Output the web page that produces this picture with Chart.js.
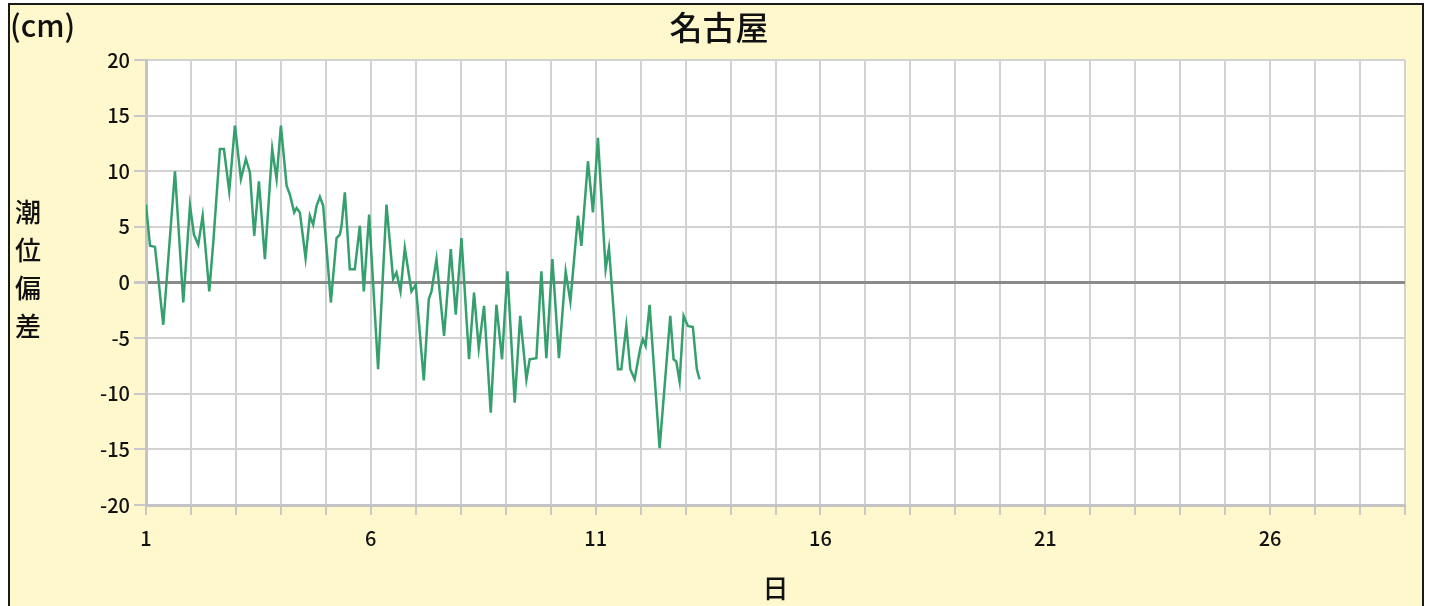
<!DOCTYPE html>
<html lang="ja">
<head>
  <meta charset="UTF-8">
  <title>名古屋 潮位偏差</title>
  <script src="https://cdn.jsdelivr.net/npm/chart.js"></script>
  <style>
    html, body { margin: 0; padding: 0; background: #fff; overflow: hidden; }
    #frame { position: absolute; left: 8px; top: 3px; width: 1412px; height: 640px;
             border: 2px solid #1a1a1a; background: #fff8cc; }
    #chart { position: absolute; left: 0; top: 0; }
  </style>
</head>
<body>
  <div id="frame"></div>
  <canvas id="chart" width="1429" height="606"></canvas>

  <script>
    // Time in days (1 = start of day 1), deviation in cm
    const days = [
      1.000, 1.089, 1.200, 1.384, 1.644, 1.829, 1.978, 2.067, 2.162, 2.260,
      2.407, 2.496, 2.644, 2.733, 2.851, 2.978, 3.111, 3.222, 3.311, 3.407,
      3.511, 3.644, 3.807, 3.904, 4.000, 4.127, 4.200, 4.296, 4.349, 4.422,
      4.549, 4.644, 4.718, 4.793, 4.867, 4.940, 5.111, 5.238, 5.311, 5.349,
      5.422, 5.533, 5.644, 5.756, 5.844, 5.962, 6.162, 6.349, 6.496, 6.571,
      6.660, 6.756, 6.904, 7.000, 7.178, 7.289, 7.349, 7.460, 7.629, 7.778,
      7.889, 8.016, 8.184, 8.296, 8.400, 8.518, 8.667, 8.793, 8.918, 9.038,
      9.200, 9.322, 9.460, 9.533, 9.682, 9.793, 9.904, 10.038, 10.184, 10.333,
      10.438, 10.607, 10.682, 10.829, 10.940, 11.051, 11.222, 11.296, 11.496, 11.571,
      11.682, 11.771, 11.867, 11.993, 12.051, 12.111, 12.200, 12.422, 12.660, 12.733,
      12.793, 12.867, 12.956, 13.051, 13.162, 13.251, 13.311
    ];
    const deviation = [
      7.0, 3.3, 3.2, -3.8, 10.0, -1.8, 6.9, 4.3, 3.4, 6.0,
      -0.8, 3.6, 12.0, 12.0, 8.2, 14.1, 9.3, 11.1, 9.9, 4.2,
      9.1, 2.1, 12.0, 9.3, 14.1, 8.7, 7.9, 6.3, 6.7, 6.3,
      2.2, 6.0, 5.2, 6.9, 7.7, 6.9, -1.8, 4.0, 4.3, 5.1,
      8.1, 1.2, 1.2, 5.1, -0.8, 6.1, -7.8, 7.0, 0.3, 0.9,
      -0.8, 3.1, -0.8, -0.2, -8.8, -1.5, -0.8, 2.1, -4.8, 3.0,
      -2.9, 4.0, -6.9, -0.9, -5.9, -2.1, -11.7, -2.0, -6.9, 1.0,
      -10.8, -3.0, -8.7, -6.9, -6.8, 1.0, -6.8, 2.1, -6.8, 1.0,
      -1.7, 6.0, 3.3, 10.9, 6.3, 13.0, 1.2, 3.1, -7.8, -7.8,
      -3.9, -7.8, -8.7, -5.9, -5.1, -5.7, -2.0, -14.9, -3.0, -6.9,
      -7.1, -8.9, -3.0, -3.9, -4.0, -7.8, -8.7
    ];
    const xLabels = [1, 6, 11, 16, 21, 26];
    const yTicks = [-20, -15, -10, -5, 0, 5, 10, 15, 20];

    const font = '"Noto Sans CJK JP", "Noto Sans", sans-serif';

    // White plot area + extra texts
    const decor = {
      id: 'decor',
      beforeDraw(chart) {
        const { ctx, chartArea: a } = chart;
        ctx.save();
        ctx.fillStyle = '#ffffff';
        ctx.fillRect(a.left, a.top, a.right - a.left, a.bottom - a.top);
        ctx.restore();
      },
      afterDraw(chart) {
        const { ctx, chartArea: a } = chart;
        ctx.save();
        ctx.fillStyle = '#111';
        ctx.textBaseline = 'middle';
        ctx.font = '500 33px ' + font;
        ctx.textAlign = 'center';
        ctx.fillText('名古屋', 719, 27);
        ctx.font = '500 30px ' + font;
        ctx.textAlign = 'left';
        ctx.fillText('(cm)', 10, 26);
        ctx.textAlign = 'center';
        ctx.font = '500 26px ' + font;
        ['潮', '位', '偏', '差'].forEach((c, i) => ctx.fillText(c, 28, 212 + i * 38));
        ctx.fillText('日', (a.left + a.right) / 2, 588);
        ctx.restore();
      }
    };

    new Chart(document.getElementById('chart'), {
      type: 'line',
      data: {
        datasets: [{
          data: days.map((d, i) => ({ x: d, y: deviation[i] })),
          borderColor: '#35a06e',
          borderWidth: 2.5,
          pointRadius: 0,
          tension: 0,
          fill: false
        }]
      },
      options: {
        responsive: false,
        animation: false,
        layout: { padding: { left: 0, right: 24, top: 60, bottom: 0 } },
        plugins: { legend: { display: false }, tooltip: { enabled: false } },
        scales: {
          x: {
            type: 'linear',
            min: 1,
            max: 29,
            afterFit(s) { s.height = 101; },
            afterBuildTicks(s) {
              s.ticks = [];
              for (let d = 1; d <= 29; d++) s.ticks.push({ value: d });
            },
            ticks: {
              autoSkip: false,
              maxRotation: 0,
              padding: 11,
              color: '#111',
              font: { family: font, size: 20, weight: '500' },
              callback: v => xLabels.includes(v) ? String(v) : ''
            },
            grid: { color: '#d2d2d2', lineWidth: 2, tickLength: 10, tickColor: '#c8c8c8' },
            border: { color: '#c4c4c4', width: 3 }
          },
          y: {
            min: -20,
            max: 20,
            afterFit(s) { s.width = 146; },
            afterBuildTicks(s) { s.ticks = yTicks.map(v => ({ value: v })); },
            ticks: {
              padding: 4,
              color: '#111',
              font: { family: font, size: 20, weight: '500' },
              callback: v => String(v)
            },
            grid: {
              color: c => c.tick && c.tick.value === 0 ? '#8a8a8a' : '#d2d2d2',
              lineWidth: c => c.tick && c.tick.value === 0 ? 3 : 2,
              tickLength: 12,
              tickColor: '#c8c8c8'
            },
            border: { color: '#c4c4c4', width: 3 }
          }
        }
      },
      plugins: [decor]
    });
  </script>
</body>
</html>
